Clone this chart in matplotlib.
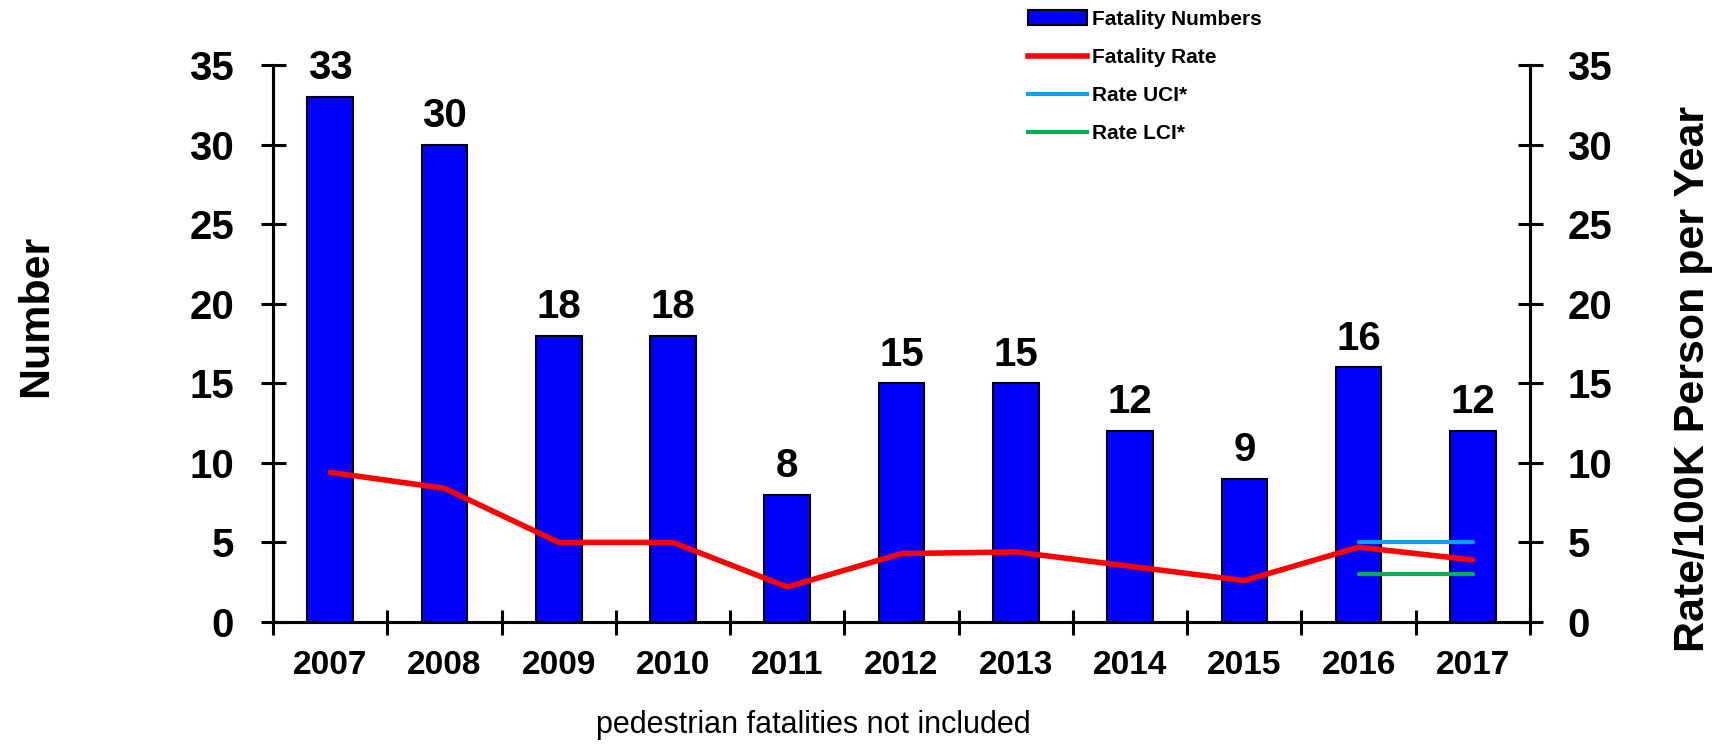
import matplotlib
matplotlib.use("Agg")
import matplotlib.pyplot as plt
from matplotlib.patches import Patch
from matplotlib.lines import Line2D

plt.rcParams['font.family'] = ['Liberation Sans', 'DejaVu Sans']

years = ["2007", "2008", "2009", "2010", "2011", "2012", "2013", "2014", "2015", "2016", "2017"]
fatalities = [33, 30, 18, 18, 8, 15, 15, 12, 9, 16, 12]
rate = [9.4, 8.4, 5.0, 5.0, 2.2, 4.3, 4.4, 3.5, 2.6, 4.7, 3.9]
ci_years = ["2016", "2017"]
rate_uci = [5.0, 5.0]
rate_lci = [3.0, 3.0]

fig = plt.figure(figsize=(17.23, 7.53), dpi=100)
ax = fig.add_axes([0.1585, 0.174, 0.7295, 0.7397])
ax2 = ax.twinx()

x = list(range(len(years)))
ax.bar(x, fatalities, width=0.4, color="#0000FF", edgecolor="black", linewidth=1.5, zorder=2)
for xi, v in zip(x, fatalities):
    ax.annotate(str(v), (xi, v), xytext=(0, 7), textcoords="offset points",
                ha="center", va="bottom", fontsize=29, fontweight="bold")

ci_x = [years.index(y) for y in ci_years]
ax2.plot(x, rate, color="#FF0000", lw=4, solid_capstyle="round", zorder=3)
ax2.plot(ci_x, rate_uci, color="#00A2FF", lw=3, solid_capstyle="round", zorder=3)
ax2.plot(ci_x, rate_lci, color="#00B050", lw=3, solid_capstyle="round", zorder=3)

for a, pad in ((ax, 19), (ax2, 18)):
    a.set_ylim(0, 35)
    a.set_xlim(-0.5, len(years) - 0.5)
    a.set_yticks(range(0, 36, 5))
    a.spines['top'].set_visible(False)
    for s in a.spines.values():
        s.set_linewidth(2.2)
    a.tick_params(axis='y', direction='inout', length=18, width=2.2, labelsize=29, pad=pad)
    for lab in a.get_yticklabels():
        lab.set_fontweight("bold")

# category boundaries as ticks, year labels in the middle
ax.set_xticks([i - 0.5 for i in range(len(years) + 1)])
ax.set_xticklabels([])
ax.tick_params(axis='x', which='major', direction='inout', length=18, width=2.2)
ax.set_xticks(x, minor=True)
ax.set_xticklabels(years, minor=True, fontsize=24, fontweight="bold")
ax.tick_params(axis='x', which='minor', length=0, pad=20)

ax.set_ylabel("Number", fontsize=31, fontweight="bold")
ax.yaxis.set_label_coords(-0.173, 0.55)
ax2.set_ylabel("Rate/100K Person per Year", fontsize=31, fontweight="bold")
ax2.yaxis.set_label_coords(1.114, 0.436)

handles = [Patch(facecolor="#0000FF", edgecolor="black", linewidth=1.5),
           Line2D([], [], color="#FF0000", lw=4),
           Line2D([], [], color="#00A2FF", lw=3),
           Line2D([], [], color="#00B050", lw=3)]
labels = ["Fatality Numbers", "Fatality Rate", "Rate UCI*", "Rate LCI*"]
fig.legend(handles, labels, loc="upper left", bbox_to_anchor=(0.586, 1.012), frameon=False,
           prop={"size": 15, "weight": "bold"}, handlelength=2.8, handletextpad=0.25,
           labelspacing=0.92)

fig.text(0.472, 0.037, "pedestrian fatalities not included", ha="center", va="center", fontsize=22)

fig.savefig("out.png", dpi=100)
